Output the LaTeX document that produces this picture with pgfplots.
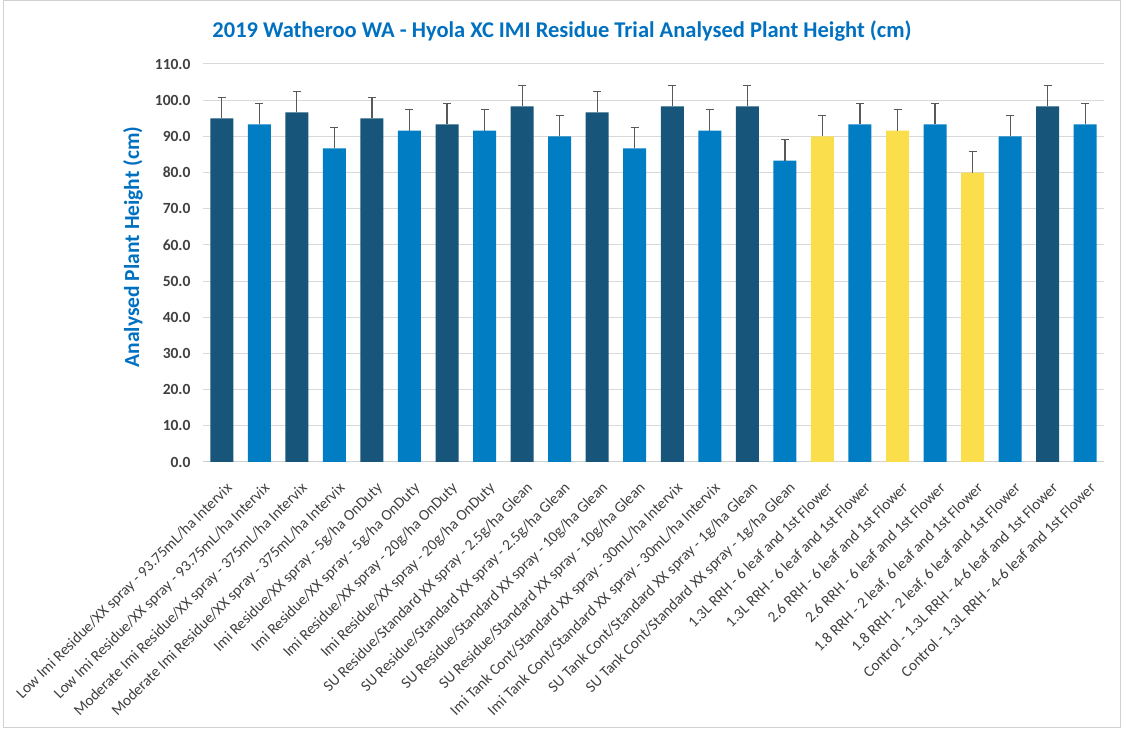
\documentclass[border=0pt]{standalone}
\usepackage{pgfplots}
\pgfplotsset{compat=1.18}
\usepackage{pgfplotstable}
\usepackage{fontspec}
\setmainfont{Carlito}
\definecolor{dk}{HTML}{17567A}
\definecolor{bl}{HTML}{007DC3}
\definecolor{yl}{HTML}{FADE4B}
\definecolor{ttl}{HTML}{0070C0}
\definecolor{txt}{HTML}{404040}
\pgfplotstableread{
x y e
0 95.0 5.8
2 96.6 5.8
4 95.0 5.8
6 93.3 5.8
8 98.3 5.8
10 96.6 5.8
12 98.3 5.8
14 98.3 5.8
22 98.3 5.8
}\darkdata
\pgfplotstableread{
x y e
1 93.3 5.8
3 86.7 5.8
5 91.6 5.8
7 91.6 5.8
9 90.0 5.8
11 86.7 5.8
13 91.6 5.8
15 83.3 5.8
17 93.3 5.8
19 93.3 5.8
21 90.0 5.8
23 93.3 5.8
}\bluedata
\pgfplotstableread{
x y e
16 90.0 5.8
18 91.6 5.8
20 80.0 5.8
}\yellowdata
\begin{document}
\begin{tikzpicture}[x=1bp,y=1bp]
\useasboundingbox (0,0) rectangle (1123,734);
\draw[color=black!18, line width=1bp] (3,6) rectangle (1120,733);
\node[font=\fontsize{22.5bp}{26bp}\selectfont\bfseries, text=ttl] at (562,703) {2019 Watheroo WA - Hyola XC IMI Residue Trial Analysed Plant Height (cm)};
\node[font=\fontsize{21.5bp}{25bp}\selectfont\bfseries, text=ttl, rotate=90] at (133,487) {Analysed Plant Height (cm)};
\begin{axis}[
  at={(203bp,272bp)}, anchor=south west,
  scale only axis, width=901bp, height=398bp,
  ymin=0, ymax=110, xmin=-0.5, xmax=23.5,
  ytick={0,10,...,110},
  xtick={0,...,23},
  xticklabels={
    {Low Imi Residue/XX spray - 93.75mL/ha Intervix},
    {Low Imi Residue/XX spray - 93.75mL/ha Intervix},
    {Moderate Imi Residue/XX spray - 375mL/ha Intervix},
    {Moderate Imi Residue/XX spray - 375mL/ha Intervix},
    {Imi Residue/XX spray - 5g/ha OnDuty},
    {Imi Residue/XX spray - 5g/ha OnDuty},
    {Imi Residue/XX spray - 20g/ha OnDuty},
    {Imi Residue/XX spray - 20g/ha OnDuty},
    {SU Residue/Standard XX spray - 2.5g/ha Glean},
    {SU Residue/Standard XX spray - 2.5g/ha Glean},
    {SU Residue/Standard XX spray - 10g/ha Glean},
    {SU Residue/Standard XX spray - 10g/ha Glean},
    {Imi Tank Cont/Standard XX spray - 30mL/ha Intervix},
    {Imi Tank Cont/Standard XX spray - 30mL/ha Intervix},
    {SU Tank Cont/Standard XX spray - 1g/ha Glean},
    {SU Tank Cont/Standard XX spray - 1g/ha Glean},
    {1.3L RRH - 6 leaf and 1st Flower},
    {1.3L RRH - 6 leaf and 1st Flower},
    {2.6 RRH - 6 leaf and 1st Flower},
    {2.6 RRH - 6 leaf and 1st Flower},
    {1.8 RRH - 2 leaf, 6 leaf and 1st Flower},
    {1.8 RRH - 2 leaf, 6 leaf and 1st Flower},
    {Control - 1.3L RRH - 4-6 leaf and 1st Flower},
    {Control - 1.3L RRH - 4-6 leaf and 1st Flower}},
  xticklabel style={rotate=45, anchor=north east, inner sep=0bp, text=txt, font=\fontsize{15.4bp}{18bp}\selectfont, xshift=-11bp, yshift=-16bp},
  yticklabel style={text=txt, font=\fontsize{15.5bp}{18bp}\selectfont\bfseries, xshift=-9bp},
  /pgf/number format/assume math mode=true,
  /pgf/number format/.cd, fixed, fixed zerofill, precision=1, /pgfplots/.cd,
  major tick length=0pt,
  axis x line*=bottom, axis y line*=left,
  y axis line style={draw=none},
  x axis line style={draw=black!18, line width=1bp, -},
  ymajorgrids, grid style={draw=black!15, line width=1bp},
  ybar, bar width=23bp,
  clip=false,
]
\addplot[fill=dk, draw=none, bar shift=0pt, error bars/.cd, y dir=plus, y explicit,
  error bar style={line width=1.2bp, color=black!65},
  error mark options={rotate=90, mark size=4bp, line width=1.2bp, color=black!65}]
  table[x=x, y=y, y error=e] {\darkdata};
\addplot[fill=bl, draw=none, bar shift=0pt, error bars/.cd, y dir=plus, y explicit,
  error bar style={line width=1.2bp, color=black!65},
  error mark options={rotate=90, mark size=4bp, line width=1.2bp, color=black!65}]
  table[x=x, y=y, y error=e] {\bluedata};
\addplot[fill=yl, draw=none, bar shift=0pt, error bars/.cd, y dir=plus, y explicit,
  error bar style={line width=1.2bp, color=black!65},
  error mark options={rotate=90, mark size=4bp, line width=1.2bp, color=black!65}]
  table[x=x, y=y, y error=e] {\yellowdata};
\end{axis}
\end{tikzpicture}
\end{document}
